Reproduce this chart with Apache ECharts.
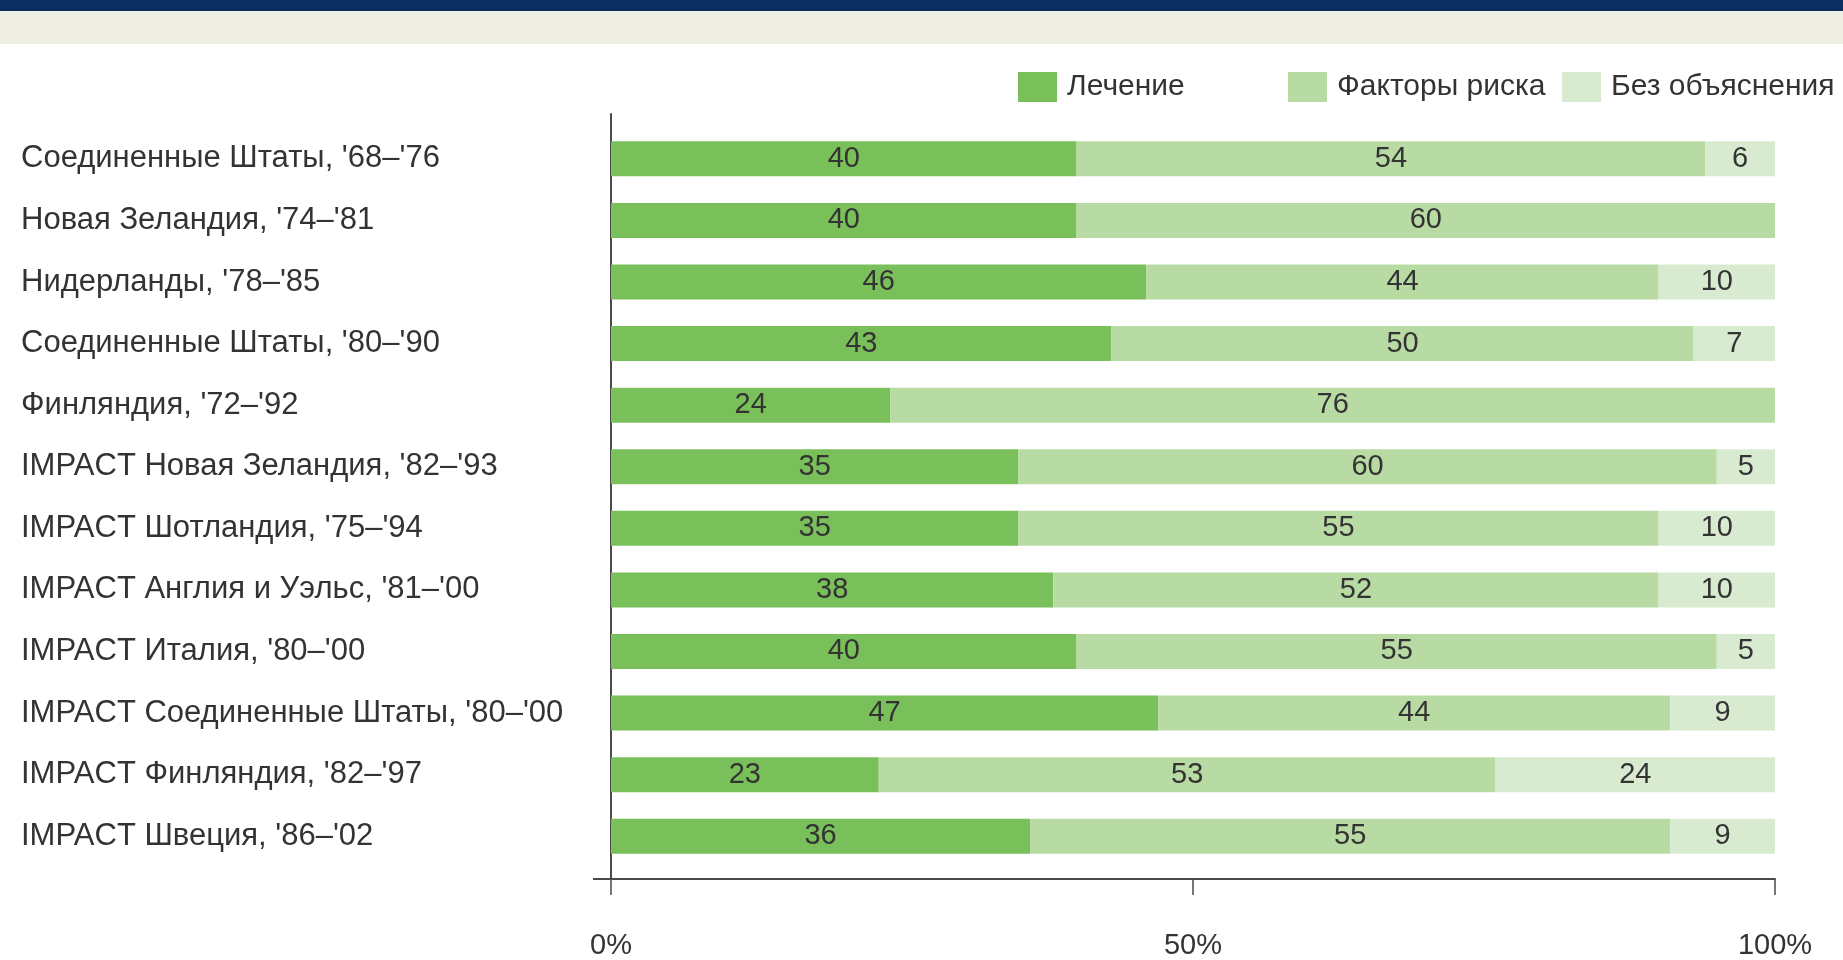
<!DOCTYPE html>
<html>
<head>
<meta charset="utf-8">
<script src="https://cdn.jsdelivr.net/npm/echarts@6/dist/echarts.min.js"></script>
<style>
  html, body { margin: 0; padding: 0; background: #fff; }
  #chart { width: 1843px; height: 960px; }
</style>
</head>
<body>
<div id="chart"></div>
<script>
const categories = [
  "Соединенные Штаты, '68–'76",
  "Новая Зеландия, '74–'81",
  "Нидерланды, '78–'85",
  "Соединенные Штаты, '80–'90",
  "Финляндия, '72–'92",
  "IMPACT Новая Зеландия, '82–'93",
  "IMPACT Шотландия, '75–'94",
  "IMPACT Англия и Уэльс, '81–'00",
  "IMPACT Италия, '80–'00",
  "IMPACT Соединенные Штаты, '80–'00",
  "IMPACT Финляндия, '82–'97",
  "IMPACT Швеция, '86–'02"
];
const treatment = [40, 40, 46, 43, 24, 35, 35, 38, 40, 47, 23, 36];
const riskFactors = [54, 60, 44, 50, 76, 60, 55, 52, 55, 44, 53, 55];
const unexplained = [6, 0, 10, 7, 0, 5, 10, 10, 5, 9, 24, 9];
const seriesNames = ['Лечение', 'Факторы риска', 'Без объяснения'];
const xTicks = [0, 50, 100];

~function () {
  let myChart = echarts.init(document.getElementById('chart'));
  const font = 'Liberation Sans, Arial, sans-serif';
  const colors = ['#79c05a', '#b8dba4', '#d8ebd0'];

  const label = {
    show: true,
    position: 'inside',
    color: '#333',
    fontSize: 29,
    fontFamily: font,
    formatter: p => (p.value ? p.value : '')
  };

  const legendBase = {
    top: 67,
    icon: 'rect',
    itemWidth: 39,
    itemHeight: 30,
    textStyle: { color: '#333', fontSize: 30, fontFamily: font, padding: [0, 0, 0, 5] }
  };

  let option = {
    backgroundColor: '#fff',
    animation: false,
    color: colors,
    graphic: [
      { type: 'rect', left: 0, top: 0, shape: { width: 1843, height: 11 }, style: { fill: '#0c2d5f' } },
      { type: 'rect', left: 0, top: 11, shape: { width: 1843, height: 33 }, style: { fill: '#eeeee3' } }
    ],
    legend: [
      Object.assign({ left: 1013, data: [seriesNames[0]] }, legendBase),
      Object.assign({ left: 1283, data: [seriesNames[1]] }, legendBase),
      Object.assign({ left: 1557, data: [seriesNames[2]] }, legendBase)
    ],
    grid: [
      { left: 611, right: 68, top: 114, bottom: 78 },
      { left: 611, right: 68, top: 128, bottom: 93 }
    ],
    xAxis: [
      {
        gridIndex: 0,
        type: 'value',
        min: 0,
        max: 100,
        interval: 50,
        axisLine: { show: true, lineStyle: { color: '#4a4a4a', width: 2 } },
        axisTick: { show: true, length: 16, lineStyle: { color: '#4a4a4a', width: 1.5 } },
        axisLabel: { margin: 52, color: '#333', fontSize: 29, fontFamily: font, formatter: '{value}%' },
        splitLine: { show: false }
      },
      {
        gridIndex: 1,
        type: 'value',
        min: 0,
        max: 100,
        show: false
      }
    ],
    yAxis: [
      {
        gridIndex: 0,
        type: 'value',
        min: 0,
        max: 1,
        axisLine: { show: true, lineStyle: { color: '#4a4a4a', width: 2 } },
        axisTick: { show: true, length: 18, customValues: [0], lineStyle: { color: '#4a4a4a', width: 2 } },
        axisLabel: { show: false },
        splitLine: { show: false }
      },
      {
        gridIndex: 1,
        type: 'category',
        inverse: true,
        data: categories,
        axisLine: { show: false },
        axisTick: { show: false },
        axisLabel: { align: 'left', margin: 590, color: '#333', fontSize: 31, fontFamily: font }
      }
    ],
    series: [
      { name: seriesNames[0], type: 'bar', stack: 'total', xAxisIndex: 1, yAxisIndex: 1, barWidth: 35, data: treatment, label: label },
      { name: seriesNames[1], type: 'bar', stack: 'total', xAxisIndex: 1, yAxisIndex: 1, barWidth: 35, data: riskFactors, label: label },
      { name: seriesNames[2], type: 'bar', stack: 'total', xAxisIndex: 1, yAxisIndex: 1, barWidth: 35, data: unexplained, label: label }
    ]
  };
  myChart.setOption(option);
}();
</script>
</body>
</html>
